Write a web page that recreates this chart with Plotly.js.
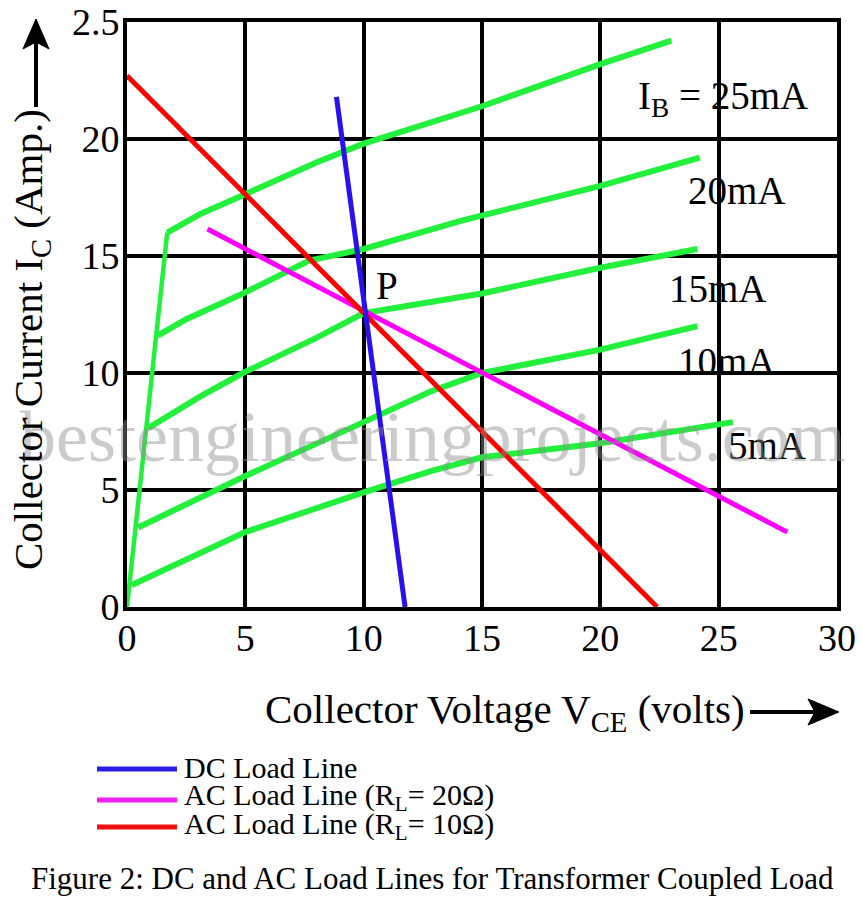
<!DOCTYPE html>
<html>
<head>
<meta charset="utf-8">
<script src="https://cdn.plot.ly/plotly-3.0.1.min.js"></script>
<style>html,body{margin:0;padding:0;background:#fff;}#chart{width:862px;height:900px;}</style>
</head>
<body>
<div id="chart"></div>
<script>
// ---- data ----
const satV = [0, 1.7];
const satI = [0, 16.0];

const vce25 = [1.7, 3.1, 4.9, 8.0, 10.0, 15.0, 20.0, 23.0];
const ic25  = [16.0, 16.8, 17.6, 19.0, 19.8, 21.4, 23.2, 24.2];

const vce20 = [1.3, 2.5, 4.9, 7.7, 10.0, 14.1, 20.0, 24.2];
const ic20  = [11.6, 12.3, 13.4, 14.8, 15.3, 16.5, 18.0, 19.2];

const vce15 = [0.9, 3.1, 4.9, 8.0, 10.0, 15.0, 20.0, 24.1];
const ic15  = [7.65, 9.0, 10.0, 11.5, 12.56, 13.4, 14.5, 15.3];

const vce10 = [0.47, 5.0, 10.0, 12.8, 15.0, 20.0, 24.1];
const ic10  = [3.4, 5.6, 7.9, 9.2, 10.0, 11.0, 12.0];

const vce5 = [0.2, 5.0, 10.0, 12.8, 15.0, 20.0, 25.6];
const ic5  = [0.94, 3.2, 4.9, 5.8, 6.4, 7.0, 7.9];

const dcV = [8.85, 11.75];
const dcI = [21.8, 0];

const ac20V = [3.4, 27.9];
const ac20I = [16.15, 3.2];

const ac10V = [0, 22.4];
const ac10I = [22.7, 0];

const xTicks = [0, 5, 10, 15, 20, 25, 30];
const xTickText = ['0', '5', '10', '15', '20', '25', '30'];
const yTicks = [0, 5, 10, 15, 20, 25];
const yTickText = ['0', '5', '10', '15', '20', '2.5'];

const curveLabels = ['I<sub>B</sub> = 25mA', '20mA', '15mA', '10mA', '5mA'];
const curveLabelX = [21.5, 23.6, 22.8, 23.2, 25.3];
const curveLabelY = [21.75, 17.8, 13.6, 10.5, 6.9];

const legendNames = ['DC Load Line', 'AC Load Line (R<sub>L</sub>= 20Ω)', 'AC Load Line (R<sub>L</sub>= 10Ω)'];
const legendColors = ['#2a1ee6', '#f020f0', '#ee1010'];

// ---- styles ----
const FONT = '"Liberation Serif", "Times New Roman", serif';
const GREEN = '#22f03c';

function g(x, y, w) {
  return {x: x, y: y, type: 'scatter', mode: 'lines', line: {color: GREEN, width: w}, hoverinfo: 'skip', showlegend: false};
}

const traces = [
  g(satV, satI, 4.5),
  g(vce25, ic25, 6),
  g(vce20, ic20, 6),
  g(vce15, ic15, 6),
  g(vce10, ic10, 6),
  g(vce5, ic5, 6),
  {x: ac20V, y: ac20I, type: 'scatter', mode: 'lines', line: {color: '#ff00ff', width: 5}, name: legendNames[1], showlegend: false},
  {x: ac10V, y: ac10I, type: 'scatter', mode: 'lines', line: {color: '#ff0000', width: 5}, name: legendNames[2], showlegend: false},
  {x: dcV, y: dcI, type: 'scatter', mode: 'lines', line: {color: '#2a10f0', width: 5}, name: legendNames[0], showlegend: false}
];

const L = 127, R = 837, T = 22, B = 607;
const W = R - L, H = B - T;
const px = v => (v - L) / W;
const py = v => (B - v) / H;
const pt = (a, b) => px(a).toFixed(5) + ',' + py(b).toFixed(5);

const annotations = [];
curveLabels.forEach((t, i) => {
  annotations.push({x: curveLabelX[i], y: curveLabelY[i], xref: 'x', yref: 'y', text: t, showarrow: false,
    xanchor: 'left', yanchor: 'middle', font: {family: FONT, size: 39, color: '#000'}});
});
annotations.push({x: 10.45, y: 13.75, xref: 'x', yref: 'y', text: 'P', showarrow: false,
  xanchor: 'left', yanchor: 'middle', font: {family: FONT, size: 39, color: '#000'}});

// watermark
annotations.push({x: px(433), y: py(437), xref: 'paper', yref: 'paper', text: 'bestengineeringprojects.com', showarrow: false,
  xanchor: 'center', yanchor: 'middle', font: {family: FONT, size: 72, color: 'rgba(140,140,140,0.45)'}});

// axis titles
annotations.push({x: px(263), y: py(712), xref: 'paper', yref: 'paper', text: 'Collector Voltage V<sub>CE</sub> (volts)', showarrow: false,
  xanchor: 'left', yanchor: 'middle', font: {family: FONT, size: 41, color: '#000'}});
annotations.push({x: px(31), y: py(340), xref: 'paper', yref: 'paper', text: 'Collector Current I<sub>C</sub> (Amp.)', showarrow: false,
  textangle: -90, xanchor: 'center', yanchor: 'middle', font: {family: FONT, size: 41, color: '#000'}});

const shapes = [];
// axis-title arrows
shapes.push({type: 'line', xref: 'paper', yref: 'paper', x0: px(750), x1: px(816), y0: py(712), y1: py(712), line: {color: '#000', width: 4}});
shapes.push({type: 'path', xref: 'paper', yref: 'paper', path: 'M' + pt(839, 712) + 'L' + pt(808, 699) + 'L' + pt(815, 712) + 'L' + pt(808, 725) + 'Z',
  fillcolor: '#000', line: {color: '#000', width: 1}});
shapes.push({type: 'line', xref: 'paper', yref: 'paper', x0: px(36), x1: px(36), y0: py(107), y1: py(42), line: {color: '#000', width: 4}});
shapes.push({type: 'path', xref: 'paper', yref: 'paper', path: 'M' + pt(36, 19) + 'L' + pt(23, 49) + 'L' + pt(36, 42) + 'L' + pt(49, 49) + 'Z',
  fillcolor: '#000', line: {color: '#000', width: 1}});

// legend
const legY = [767, 797, 826];
const legLineY = [769, 800, 827];
legendNames.forEach((t, i) => {
  shapes.push({type: 'line', xref: 'paper', yref: 'paper', x0: px(97), x1: px(177), y0: py(legLineY[i]), y1: py(legLineY[i]),
    line: {color: legendColors[i], width: 5}});
  annotations.push({x: px(182), y: py(legY[i]), xref: 'paper', yref: 'paper', text: t, showarrow: false,
    xanchor: 'left', yanchor: 'middle', font: {family: FONT, size: 30, color: '#000'}});
});

// caption
annotations.push({x: px(432), y: py(878), xref: 'paper', yref: 'paper', text: 'Figure 2: DC and AC Load Lines for Transformer Coupled Load', showarrow: false,
  xanchor: 'center', yanchor: 'middle', font: {family: FONT, size: 31, color: '#000'}});

const layout = {
  width: 862, height: 900,
  margin: {l: L, r: 862 - R, t: T, b: 900 - B},
  paper_bgcolor: '#fff', plot_bgcolor: '#fff',
  showlegend: false,
  xaxis: {range: [0, 30], tickvals: xTicks, ticktext: xTickText, showgrid: true, gridcolor: '#000', gridwidth: 4,
    showline: true, mirror: true, linecolor: '#000', linewidth: 4, zeroline: false, ticks: '', ticklabelstandoff: -6,
    tickfont: {family: FONT, size: 38, color: '#000'}, fixedrange: true},
  yaxis: {range: [0, 25], tickvals: yTicks, ticktext: yTickText, showgrid: true, gridcolor: '#000', gridwidth: 4,
    showline: true, mirror: true, linecolor: '#000', linewidth: 4, zeroline: false, ticks: '', ticklabelstandoff: -4,
    tickfont: {family: FONT, size: 38, color: '#000'}, fixedrange: true},
  annotations: annotations,
  shapes: shapes
};

Plotly.newPlot('chart', traces, layout, {displayModeBar: false, staticPlot: true});
</script>
</body>
</html>
